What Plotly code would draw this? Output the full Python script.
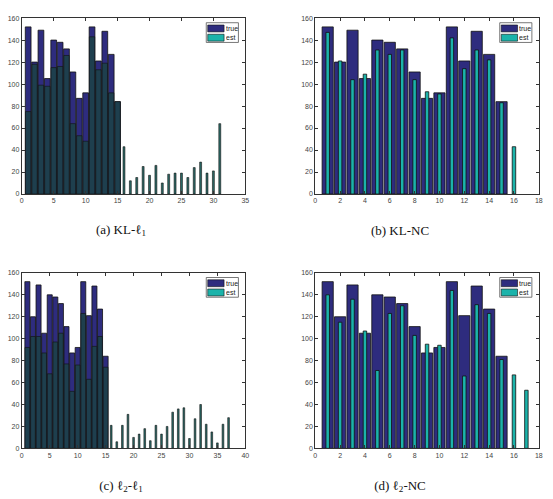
import plotly.graph_objects as go

# ---------------- data ----------------
true_vals = [152, 120, 149, 105, 140, 138, 132, 111, 87, 92, 152, 121, 148, 127, 84]

est_kl_l1 = [75, 118, 99, 98, 115, 116, 126, 64, 53, 48, 143, 113, 119, 92, 84,
             43, 12, 15, 25, 17, 26, 10, 18, 19, 19, 15, 24, 29, 19, 21, 64]
est_kl_nc = [147, 121, 104, 109, 131, 127, 131, 104, 93, 91, 142, 114, 131, 122, 83, 43]
est_l2_l1 = [92, 102, 102, 87, 68, 97, 105, 77, 52, 76, 123, 63, 93, 102, 74,
             21, 6, 21, 31, 10, 13, 18, 7, 21, 13, 20, 33, 36, 37, 9, 27, 40, 22, 15, 5, 22, 28]
est_l2_nc = [140, 115, 136, 107, 71, 123, 130, 103, 95, 94, 144, 66, 131, 123, 81, 67, 53]

captions = ["(a) KL-ℓ<sub>1</sub>", "(b) KL-NC", "(c) ℓ<sub>2</sub>-ℓ<sub>1</sub>", "(d) ℓ<sub>2</sub>-NC"]
x_ranges = [[0, 35], [0, 18], [0, 40], [0, 18]]
x_dticks = [5, 2, 5, 2]
y_range = [0, 160]
y_dtick = 20
legend_labels = ["true", "est"]

# ---------------- style ----------------
W, H = 553, 499
NAVY = "#2e2c7e"
TEAL = "#1bb3aa"
DARK_OVER = "#1e3f4e"
DARK_THIN = "#2c6a67"
EDGE = "#111111"
AXC = "#333333"

# pixel boxes of plot areas: (left, right, top, bottom)
boxes = [(20, 246, 14.3, 192.7), (316.7, 542.7, 14.3, 192.7),
         (20, 246, 272.7, 450.7), (316.7, 542.7, 272.7, 450.7)]
cap_pos = [(120, 229), (402, 229), (120, 489), (402, 489)]

est_sets = [est_kl_l1, est_kl_nc, est_l2_l1, est_l2_nc]
dense = [True, False, True, False]

fig = go.Figure()
shapes = []
annotations = []


def px(x, y):
    return x / W, 1 - y / H


for k in range(4):
    sfx = "" if k == 0 else str(k + 1)
    xa, ya = "x" + sfx, "y" + sfx
    est = est_sets[k]
    idx_true = list(range(1, len(true_vals) + 1))
    idx_est = list(range(1, len(est) + 1))

    fig.add_trace(go.Bar(x=idx_true, y=true_vals, width=0.9, name=legend_labels[0],
                         marker=dict(color=NAVY, line=dict(color=EDGE, width=0.8)),
                         xaxis=xa, yaxis=ya, showlegend=False))
    if dense[k]:
        widths = [0.84 if i <= len(true_vals) else 0.3 for i in idx_est]
        colors = [DARK_OVER if i <= len(true_vals) else DARK_THIN for i in idx_est]
        lw = 0.6
    else:
        widths = 0.28
        colors = TEAL
        lw = 0.8
    fig.add_trace(go.Bar(x=idx_est, y=est, width=widths, name=legend_labels[1],
                         marker=dict(color=colors, line=dict(color=EDGE, width=lw)),
                         xaxis=xa, yaxis=ya, showlegend=False))

    l, r, t, b = boxes[k]
    axis_common = dict(showline=True, linecolor=AXC, linewidth=1, mirror="ticks",
                       ticks="inside", ticklen=3, tickcolor=AXC, showgrid=False,
                       zeroline=False, tickfont=dict(family="Liberation Sans", size=7, color="#444444"))
    fig.layout["xaxis" + sfx] = dict(domain=[l / W, r / W], range=x_ranges[k], dtick=x_dticks[k],
                                     tick0=0, anchor=ya, **axis_common)
    fig.layout["yaxis" + sfx] = dict(domain=[1 - b / H, 1 - t / H], range=y_range, dtick=y_dtick,
                                     tick0=0, anchor=xa, **axis_common)

    # legend box (manual, MATLAB style)
    lx0, ly0 = r - 39.5, t + 4.7
    lx1, ly1 = lx0 + 32.5, ly0 + 20
    x0p, y0p = px(lx0, ly0)
    x1p, y1p = px(lx1, ly1)
    shapes.append(dict(type="rect", xref="paper", yref="paper", x0=x0p, x1=x1p, y0=y1p, y1=y0p,
                       line=dict(color="#555555", width=0.8), fillcolor="white", layer="above"))
    for j, (lab, col) in enumerate(zip(legend_labels, [NAVY, TEAL])):
        sy0 = ly0 + 2.3 + j * 9.4
        sy1 = sy0 + 7
        a0, b0 = px(lx0 + 1.5, sy0)
        a1, b1 = px(lx0 + 18, sy1)
        shapes.append(dict(type="rect", xref="paper", yref="paper", x0=a0, x1=a1, y0=b1, y1=b0,
                           line=dict(color=EDGE, width=0.6), fillcolor=col, layer="above"))
        tx, ty = px(lx0 + 18.5, (sy0 + sy1) / 2)
        annotations.append(dict(text=lab, xref="paper", yref="paper", x=tx, y=ty,
                                xanchor="left", yanchor="middle", showarrow=False,
                                width=14, height=9, align="left", borderpad=0,
                                font=dict(family="Liberation Sans", size=7, color="#222222")))

    cx, cy = cap_pos[k]
    annotations.append(dict(text=captions[k], xref="paper", yref="paper", x=cx / W, y=1 - cy / H,
                            xanchor="center", yanchor="middle", showarrow=False,
                            width=80, height=18, align="center",
                            font=dict(family="Liberation Serif", size=13, color="#111111")))

fig.update_layout(width=W, height=H, margin=dict(l=0, r=0, t=0, b=0),
                  paper_bgcolor="white", plot_bgcolor="white", barmode="overlay",
                  shapes=shapes, annotations=annotations, showlegend=False)

fig.write_html("out.html")
